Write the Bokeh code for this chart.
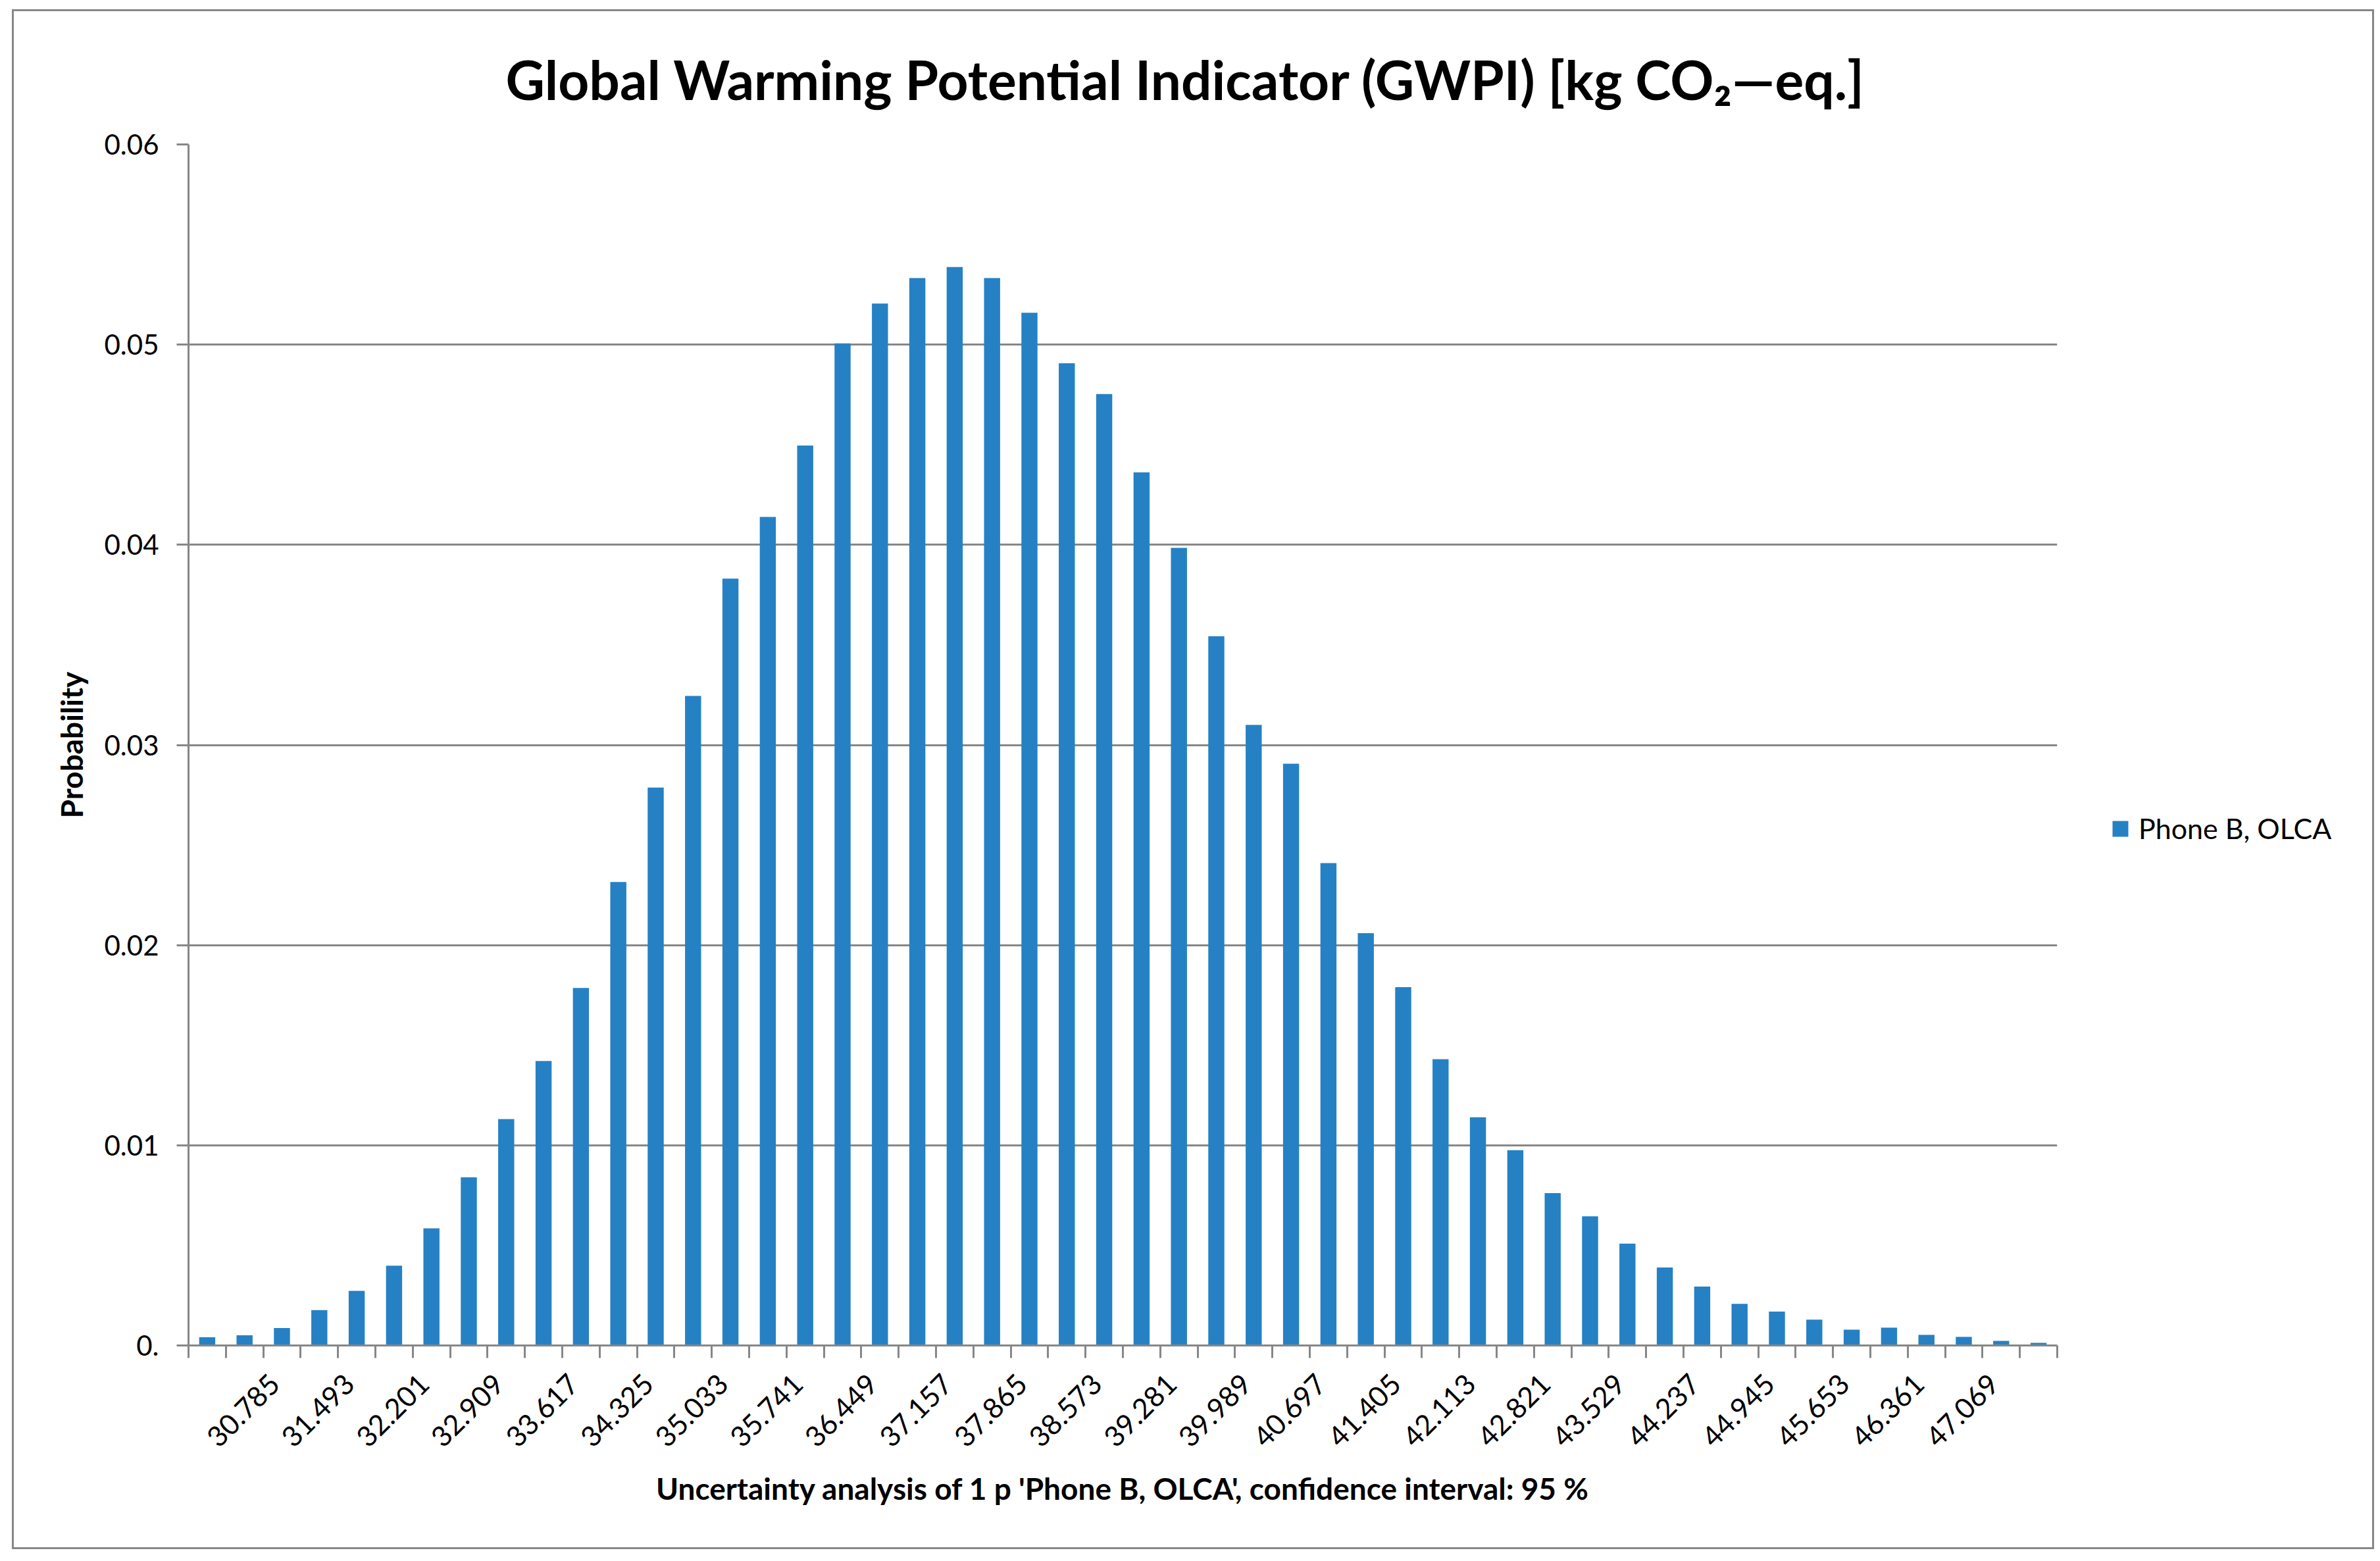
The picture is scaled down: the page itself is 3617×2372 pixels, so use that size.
from math import pi
from bokeh.plotting import figure
from bokeh.layouts import row
from bokeh.models import Range1d, FixedTicker, Legend, LegendItem
from bokeh.embed import file_html
from bokeh.resources import INLINE

# ---- data ----
probability = [
    0.00041, 0.00051, 0.00087, 0.00177, 0.00273, 0.00399, 0.00585, 0.00840, 0.01131, 0.01421,
    0.01786, 0.02315, 0.02787, 0.03245, 0.03831, 0.04139, 0.04496, 0.05006, 0.05205, 0.05333,
    0.05388, 0.05333, 0.05159, 0.04907, 0.04753, 0.04362, 0.03985, 0.03543, 0.03100, 0.02906,
    0.02410, 0.02060, 0.01790, 0.01430, 0.01140, 0.00976, 0.00761, 0.00645, 0.00509, 0.00390,
    0.00294, 0.00208, 0.00169, 0.00129, 0.00079, 0.00089, 0.00053, 0.00043, 0.00023, 0.00013,
]
bin_index = list(range(1, len(probability) + 1))
tick_labels = [
    "30.785", "31.493", "32.201", "32.909", "33.617", "34.325", "35.033", "35.741",
    "36.449", "37.157", "37.865", "38.573", "39.281", "39.989", "40.697", "41.405",
    "42.113", "42.821", "43.529", "44.237", "44.945", "45.653", "46.361", "47.069",
]
label_bins = list(range(3, 50, 2))
y_ticks = [0, 0.01, 0.02, 0.03, 0.04, 0.05, 0.06]
y_tick_labels = ["0.", "0.01", "0.02", "0.03", "0.04", "0.05", "0.06"]
series_name = "Phone B, OLCA"
title_text = "Global Warming Potential Indicator (GWPI) [kg CO\u2082\u2014eq.]"
x_title = "Uncertainty analysis of 1 p 'Phone B, OLCA', confidence interval: 95 %"
y_title = "Probability"

GRAY = "#878787"
BLUE = "#2581C4"
FONT = "Lato"

# total content area placed at page (21, 17) inside a 3px border box
W, H = 3584, 2334
FL, FR, FT, FB = 265, 3105, 202, 2027
W1 = FR + 5          # main chart width
W2 = W - W1          # legend strip width
LABEL_SHIFT = 0.2    # rotated label anchor nudge (in category units)

p = figure(width=W1, height=H, output_backend="svg", toolbar_location=None,
           x_range=Range1d(0.5, 50.5), y_range=Range1d(0, 0.06),
           min_border_left=FL, min_border_right=W1 - FR,
           min_border_top=FT, min_border_bottom=H - FB)
p.outline_line_color = None
p.background_fill_color = "white"
p.border_fill_color = "white"

bar_kw = dict(width=0.43, fill_color=BLUE, line_color=None)
r = p.vbar(x=bin_index, top=probability, **bar_kw)

# title
p.title.text = title_text
p.title.align = "left"
p.title.offset = 482
p.title.vertical_align = "bottom"
p.title.text_font = FONT
p.title.text_font_style = "bold"
p.title.text_font_size = "82px"
p.title.text_color = "black"
p.title.standoff = 101

# grid
p.xgrid.visible = False
p.ygrid.grid_line_color = GRAY
p.ygrid.grid_line_width = 3
p.ygrid.ticker = FixedTicker(ticks=y_ticks)

# y axis
ya = p.yaxis[0]
ya.ticker = FixedTicker(ticks=y_ticks)
ya.major_label_overrides = {t: s for t, s in zip(y_ticks, y_tick_labels)}
ya.axis_line_color = GRAY
ya.axis_line_width = 3
ya.major_tick_line_color = GRAY
ya.major_tick_line_width = 3
ya.major_tick_out = 18
ya.major_tick_in = 0
ya.minor_tick_line_color = None
ya.major_label_standoff = 27
ya.major_label_text_font = FONT
ya.major_label_text_font_size = "42px"
ya.major_label_text_color = "black"
ya.axis_label = y_title
ya.axis_label_text_font = FONT
ya.axis_label_text_font_style = "bold"
ya.axis_label_text_font_size = "46px"
ya.axis_label_text_color = "black"
ya.axis_label_standoff = 20

# x axis
label_pos = [b - LABEL_SHIFT for b in label_bins]
xa = p.xaxis[0]
xa.ticker = FixedTicker(ticks=label_pos, minor_ticks=[i + 0.5 for i in range(0, 51)])
xa.major_label_overrides = {x: s for x, s in zip(label_pos, tick_labels)}
xa.major_label_orientation = pi / 4
xa.axis_line_color = GRAY
xa.axis_line_width = 3
xa.major_tick_line_color = None
xa.major_tick_out = 0
xa.major_tick_in = 0
xa.minor_tick_line_color = GRAY
xa.minor_tick_line_width = 3
xa.minor_tick_out = 19
xa.minor_tick_in = 0
xa.major_label_standoff = 32
xa.major_label_text_font = FONT
xa.major_label_text_font_size = "43px"
xa.major_label_text_color = "black"
xa.axis_label = x_title
xa.axis_label_text_font = FONT
xa.axis_label_text_font_style = "bold"
xa.axis_label_text_font_size = "46px"
xa.axis_label_text_color = "black"
xa.axis_label_standoff = 18

# legend strip: same series (hidden), legend drawn inside this strip's frame
p2 = figure(width=W2, height=H, output_backend="svg", toolbar_location=None,
            x_axis_type=None, y_axis_type=None,
            min_border_left=0, min_border_right=0, min_border_top=0, min_border_bottom=0)
p2.outline_line_color = None
p2.grid.visible = False
p2.background_fill_color = "white"
p2.border_fill_color = "white"
r2 = p2.vbar(x=bin_index, top=probability, **bar_kw)
r2.visible = False

legend = Legend(items=[LegendItem(label=series_name, renderers=[r2])],
                location=(3186 - W1, FB - 1267),
                orientation="vertical", padding=0, margin=0, spacing=0,
                border_line_color=None, background_fill_color=None,
                background_fill_alpha=0, glyph_width=30, glyph_height=30,
                label_standoff=13, label_text_font=FONT,
                label_text_font_size="43px", label_text_color="black",
                label_height=50, inactive_fill_alpha=0)
p2.add_layout(legend, "center")

layout = row(p, p2, margin=(14, 0, 0, 18), styles={"border": "3px solid #878787"})

open("out.html", "w").write(file_html(layout, INLINE))
